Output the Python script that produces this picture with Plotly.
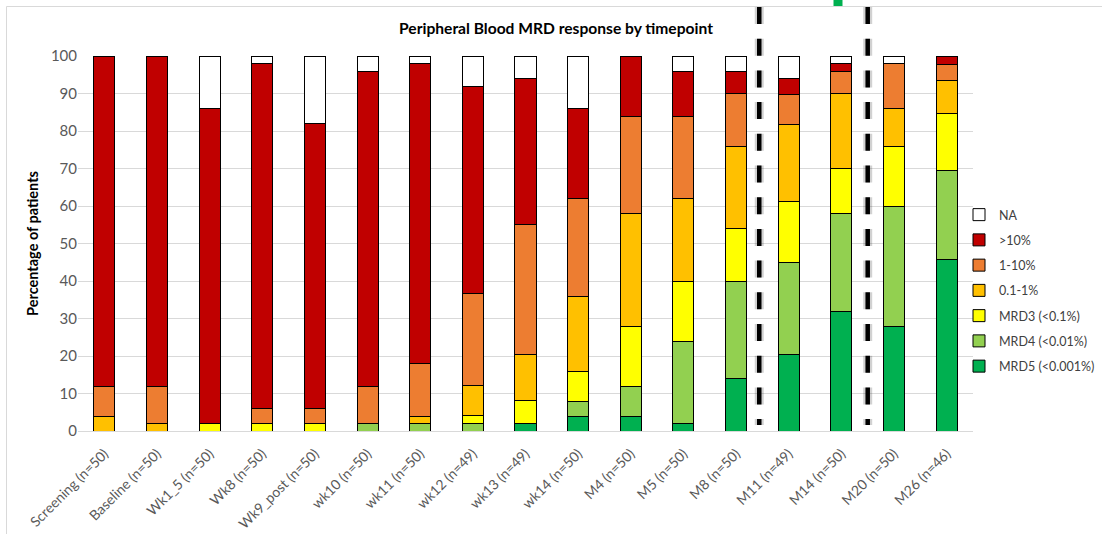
import plotly.graph_objects as go

categories = ["Screening (n=50)", "Baseline (n=50)", "Wk1_5 (n=50)", "Wk8 (n=50)",
              "Wk9_post (n=50)", "wk10 (n=50)", "wk11 (n=50)", "wk12 (n=49)",
              "wk13 (n=49)", "wk14 (n=50)", "M4 (n=50)", "M5 (n=50)", "M8 (n=50)",
              "M11 (n=49)", "M14 (n=50)", "M20 (n=50)", "M26 (n=46)"]

mrd5 = [0, 0, 0, 0, 0, 0, 0, 0, 2.04, 4, 4, 2, 14, 20.41, 32, 28, 45.65]
mrd4 = [0, 0, 0, 0, 0, 2, 2, 2.04, 0, 4, 8, 22, 26, 24.49, 26, 32, 23.91]
mrd3 = [0, 0, 2, 2, 2, 0, 0, 2.04, 6.12, 8, 16, 16, 14, 16.33, 12, 16, 15.22]
p01_1 = [4, 2, 0, 0, 0, 0, 2, 8.16, 12.24, 20, 30, 22, 22, 20.41, 20, 10, 8.70]
p1_10 = [8, 10, 0, 4, 4, 10, 14, 24.49, 34.69, 26, 26, 22, 14, 8.16, 6, 12, 4.35]
gt10 = [88, 88, 84, 92, 76, 84, 80, 55.10, 38.78, 24, 16, 12, 6, 4.08, 2, 0, 2.17]
na = [0, 0, 14, 2, 18, 4, 2, 8.16, 6.12, 14, 0, 4, 4, 6.12, 2, 2, 0]

series = [
    ("MRD5 (<0.001%)", mrd5, "#00B050"),
    ("MRD4 (<0.01%)", mrd4, "#92D050"),
    ("MRD3 (<0.1%)", mrd3, "#FFFF00"),
    ("0.1-1%", p01_1, "#FFC000"),
    ("1-10%", p1_10, "#ED7D31"),
    (">10%", gt10, "#C00000"),
    ("NA", na, "#FFFFFF"),
]

FONT = "Lato"

fig = go.Figure()
n = len(series)
for i, (name, vals, col) in enumerate(series):
    fig.add_trace(go.Bar(
        x=categories, y=vals, name=name, legendgroup=name,
        legendrank=1000 + (n - i),
        marker=dict(color=col, line=dict(color="#000000", width=1)),
    ))

# plot area in pixels: left 78, right 973, top 56, bottom 431
L, R, T, B = 78, 973, 56, 431
W, H = 1102, 534


def px_x(p):
    return (p - L) / (R - L)


def px_y(p):
    return (B - p) / (B - T)


shapes = []
# chart border
shapes.append(dict(type="rect", xref="paper", yref="paper",
                   x0=px_x(6.5), x1=px_x(1120), y0=px_y(6.5), y1=px_y(560),
                   line=dict(color="#D9D9D9", width=1), fillcolor="rgba(0,0,0,0)",
                   layer="below"))
# dashed separators
for xc in (12.44, 14.5):
    shapes.append(dict(type="line", xref="x", yref="paper", x0=xc, x1=xc,
                       y0=px_y(7), y1=px_y(425),
                       line=dict(color="rgba(0,0,0,0.18)", width=9, dash="17px,14.7px")))
    shapes.append(dict(type="line", xref="x", yref="paper", x0=xc, x1=xc,
                       y0=px_y(7), y1=px_y(425),
                       line=dict(color="#000000", width=4.5, dash="17px,14.7px")))
# small green mark at top
shapes.append(dict(type="rect", xref="paper", yref="paper",
                   x0=px_x(833.5), x1=px_x(842.5), y0=px_y(6), y1=px_y(-2),
                   line=dict(width=0), fillcolor="#00B050"))

fig.update_layout(
    width=W, height=H,
    margin=dict(l=L, r=W - R, t=T, b=H - B, autoexpand=False),
    paper_bgcolor="#FFFFFF", plot_bgcolor="#FFFFFF",
    barmode="stack", bargap=0.6,
    font=dict(family=FONT, color="#595959", size=14),
    title=dict(text="<b>Peripheral Blood MRD response by timepoint</b>",
               x=556 / W, xref="container", xanchor="center",
               y=1 - 29 / H, yref="container", yanchor="middle",
               font=dict(family=FONT, size=15.6, color="#000000")),
    xaxis=dict(type="category", tickangle=-45, showgrid=False,
               showline=True, linecolor="#D9D9D9", linewidth=1,
               ticks="", ticklabelstandoff=8,
               tickfont=dict(size=14, color="#595959")),
    yaxis=dict(range=[0, 100], dtick=10, showgrid=True, gridcolor="#D9D9D9",
               gridwidth=1, zeroline=False, showline=False, ticks="",
               tickfont=dict(size=15, color="#595959"),
               title=dict(text="<b>Percentage of patients</b>", standoff=8,
                          font=dict(size=14.5, color="#000000"))),
    legend=dict(traceorder="grouped", tracegroupgap=6,
                x=px_x(959), xanchor="left", y=px_y(200), yanchor="top",
                font=dict(size=12.5, color="#404040"),
                bgcolor="rgba(0,0,0,0)"),
    shapes=shapes,
)

fig.write_html("out.html")
